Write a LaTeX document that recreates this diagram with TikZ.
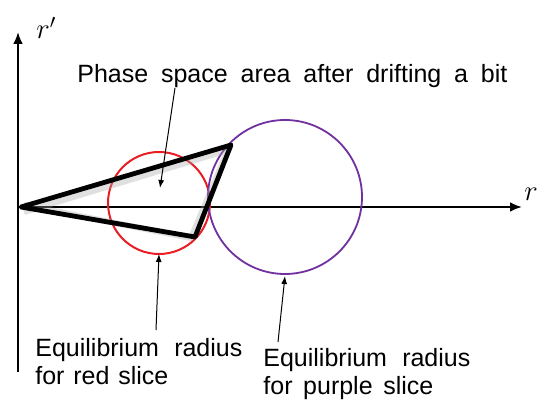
\documentclass[tikz,border=0pt]{standalone}
\usepackage{fontspec}
\setmainfont{Liberation Sans}
\usetikzlibrary{arrows.meta}
\usetikzlibrary{positioning}
\definecolor{SliceRed}{RGB}{232,30,36}
\definecolor{SlicePurple}{RGB}{112,48,160}
\tikzset{
	axis/.style={black, line width=1.2pt, -{Latex[length=6pt,width=5pt]}},
	redslice/.style={SliceRed, line width=1pt},
	purpleslice/.style={SlicePurple, line width=0.9pt},
	phasearea/.style={black, line width=2.4pt, line join=round},
	smear/.style={black!35, line width=3pt, opacity=0.35, line join=round},
	pointer/.style={black, line width=0.5pt, -{Latex[length=4pt,width=3pt]}},
	labeltext/.style={font=\fontsize{12.5}{14.3}\selectfont, align=left, inner sep=0pt},
	titletext/.style={font=\fontsize{12.5}{15}\selectfont, inner sep=0pt},
	axislabel/.style={font=\fontsize{14}{16}\selectfont, inner sep=0pt},
}

\begin{document}
\begin{tikzpicture}[x=0.5pt, y=-0.5pt]
	\useasboundingbox (0,0) rectangle (537,405);
	
	% Axes
	\coordinate (O) at (18,207);
	\coordinate (ytop) at (18,32);
	\coordinate (ybot) at (18,372);
	\coordinate (xend) at (522,207);
	\draw[axis] (ybot) -- (ytop);
	\draw[axis] (O) -- (xend);
	\node[axislabel, anchor=west] (rplbl) at (36,28) {$r'$};
	\node[axislabel, anchor=west] (rlbl) at (524,194) {$r$};
	
	% Slices (equilibrium circles)
	\coordinate (redc) at (159,203);
	\coordinate (purplec) at (285,197);
	\draw[redslice] (redc) circle[radius=25.5pt];
	\draw[purpleslice] (purplec) circle[radius=38.5pt];
	
	% Phase space area after drift (with a soft smear)
	\coordinate (tipL) at (21,207);
	\coordinate (tipT) at (231,145);
	\coordinate (tipB) at (195,237);
	\draw[smear] ([shift={(3,5)}]tipL) -- ([shift={(-3,5)}]tipT) -- ([shift={(-4,1)}]tipB) -- ([shift={(3,-2)}]tipL);
	\draw[phasearea] (tipL) -- (tipT) -- (tipB) -- cycle;
	
	% Labels
	\node[titletext, anchor=base west] (phaselbl) at (77,83)
		{\makebox[215pt][s]{Phase space area after drifting a bit}};
	\node[labeltext, anchor=base west] (redlbl) at (35,385)
		{\makebox[103.5pt][s]{Equilibrium radius}\\\makebox[66.5pt][s]{for red slice}};
	\node[labeltext, anchor=base west] (purplelbl) at (263,395)
		{\makebox[103.5pt][s]{Equilibrium radius}\\\makebox[85pt][s]{for purple slice}};
	
	% Pointers
	\coordinate (phasefoot) at (175,88);
	\coordinate (phasetip) at (160,188);
	\coordinate (redfoot) at (156,330);
	\coordinate (redtip) at (159,254);
	\coordinate (purplefoot) at (278,342);
	\coordinate (purpletip) at (285,276);
	\draw[pointer] (phasefoot) -- (phasetip);
	\draw[pointer] (redfoot) -- (redtip);
	\draw[pointer] (purplefoot) -- (purpletip);
	
\end{tikzpicture}
\end{document}
